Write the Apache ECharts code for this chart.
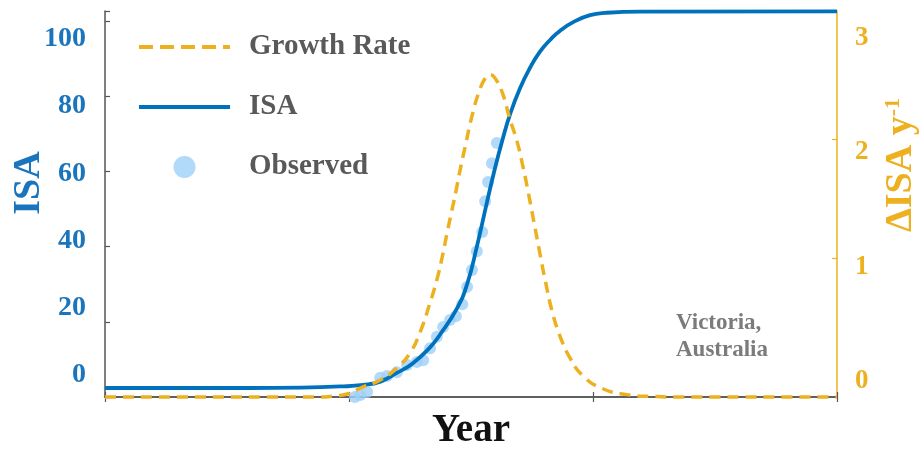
<!DOCTYPE html>
<html>
<head>
<meta charset="utf-8">
<script src="https://cdn.jsdelivr.net/npm/echarts@6/dist/echarts.min.js"></script>
<style>
  html, body { margin: 0; padding: 0; background: #ffffff; }
  #chart { width: 924px; height: 449px; }
</style>
</head>
<body>
<div id="chart"></div>
<script>
// Fitted ISA curve (year, ISA)
const isaYears  = [1950, 1979.7, 1990, 1998.2, 2002.9, 2006.4, 2009.8, 2013.1, 2016.6, 2018.6, 2022.1, 2024.2, 2026.2, 2028.3, 2029.9, 2031.4, 2033.0, 2035.0, 2037.1, 2039.1, 2041.2, 2043.2, 2046.3, 2049.4, 2052.5, 2059.6, 2100];
const isaValues = [2.4, 2.4, 2.5, 2.8, 3.2, 4.1, 6.4, 9.0, 13.2, 16.5, 23.5, 30.0, 40.0, 52.0, 60.8, 68.2, 75.2, 82.0, 87.6, 91.8, 95.0, 97.4, 100.0, 101.6, 102.2, 102.55, 102.6];

// Annual growth rate of ISA (year, ΔISA per year)
const rateYears  = [1950, 1994.1, 1997.1, 1999.6, 2002.9, 2006.4, 2009.8, 2012.5, 2014.5, 2016.6, 2018.0, 2019.1, 2020.1, 2021.1, 2021.9, 2022.7, 2023.8, 2025.2, 2026.6, 2027.9, 2028.9, 2030.1, 2031.4, 2033.0, 2034.4, 2035.5, 2036.7, 2039.1, 2040.2, 2041.6, 2043.2, 2045.3, 2047.9, 2052.0, 2057.0, 2061.7, 2067.8, 2100];
const rateValues = [0, 0, 0.01, 0.025, 0.085, 0.144, 0.246, 0.373, 0.542, 0.797, 0.992, 1.186, 1.39, 1.585, 1.74, 1.91, 2.12, 2.38, 2.58, 2.70, 2.73, 2.69, 2.58, 2.35, 2.17, 1.98, 1.74, 1.22, 0.99, 0.73, 0.52, 0.33, 0.18, 0.07, 0.02, 0.005, 0, 0];

// Observed ISA
const obsYears  = [2001.2, 2002.3, 2003.7, 2006.4, 2007.8, 2009.8, 2011.9, 2013.9, 2015.2, 2016.6, 2018.0, 2019.3, 2020.7, 2021.9, 2023.2, 2024.2, 2025.2, 2026.2, 2027.3, 2027.9, 2028.5, 2029.3, 2030.3];
const obsValues = [0.0, 0.5, 1.3, 5.1, 5.6, 6.6, 8.5, 9.3, 9.8, 13.0, 16.0, 18.6, 20.5, 21.5, 24.7, 29.3, 33.8, 38.8, 43.9, 52.1, 57.2, 62.2, 67.6];

// Tick labels
const isaTickLabels  = [0, 20, 40, 60, 80, 100];
const rateTickLabels = [0, 1, 2, 3];
const rateTickMarks  = [1, 2];

const BLUE = '#0072BD';
const BLUE_TEXT = '#1B75BC';
const ORANGE = '#EDB120';
const AXIS = '#555555';
const SERIF = '"Liberation Serif", "Times New Roman", serif';

const zip = (xs, ys) => xs.map((x, i) => [x, ys[i]]);

const chart = echarts.init(document.getElementById('chart'), null, { renderer: 'canvas' });

const hidden = { show: false };

chart.setOption({
  animation: false,
  backgroundColor: '#ffffff',
  grid: { left: 105, right: 87, top: 11, bottom: 52, containLabel: false, outerBoundsMode: 'none' },
  legend: {
    data: [
      { name: 'Growth Rate', itemStyle: { opacity: 0 }, lineStyle: { color: ORANGE, width: 4, type: [14, 7] } },
      { name: 'ISA', itemStyle: { opacity: 0 }, lineStyle: { color: BLUE, width: 4 } },
      { name: 'Observed' }
    ],
    orient: 'vertical',
    left: 132,
    top: 27,
    itemWidth: 91,
    itemHeight: 22,
    itemGap: 30,
    textStyle: {
      fontFamily: SERIF,
      fontSize: 29,
      fontWeight: 'bold',
      color: '#595959',
      lineHeight: 30,
      padding: [0, 0, 0, 14]
    }
  },
  xAxis: [
    {
      type: 'value', position: 'bottom', min: 1950, max: 2100, interval: 50,
      axisLine: { show: true, lineStyle: { color: AXIS, width: 1.5 } },
      axisTick: { show: true, inside: true, length: 5, lineStyle: { color: AXIS, width: 1.2 } },
      axisLabel: hidden, splitLine: hidden,
      name: 'Year', nameLocation: 'middle', nameGap: 14,
      nameTextStyle: { fontFamily: SERIF, fontSize: 39, fontWeight: 'bold', color: '#111111' }
    },
    {
      type: 'value', position: 'top', min: 1950, max: 2100, interval: 50,
      axisLine: { show: true, lineStyle: { color: AXIS, width: 1.5 } },
      axisTick: { show: true, inside: true, length: 5, lineStyle: { color: AXIS, width: 1.2 } },
      axisLabel: hidden, splitLine: hidden
    }
  ],
  yAxis: [
    // ISA scale
    {
      type: 'value', position: 'left', min: 0, max: 102.7, interval: 20,
      axisLine: { show: true, lineStyle: { color: AXIS, width: 1.5 } },
      axisTick: { show: true, inside: true, length: 5, lineStyle: { color: AXIS, width: 1.2 } },
      axisLabel: hidden, splitLine: hidden
    },
    // growth-rate scale
    {
      type: 'value', position: 'right', min: 0, max: 3.27,
      axisLine: { show: true, lineStyle: { color: ORANGE, width: 1.5 } },
      axisTick: hidden, axisLabel: hidden, splitLine: hidden
    },
    // ISA tick labels and title
    {
      type: 'value', position: 'left', min: -6.55, max: 108.3,
      axisLine: hidden, axisTick: hidden, splitLine: hidden,
      axisLabel: {
        show: true, customValues: isaTickLabels, margin: 19,
        fontFamily: SERIF, fontSize: 28, fontWeight: 'bold', color: BLUE_TEXT
      },
      name: 'ISA', nameLocation: 'middle', nameGap: 57, nameRotate: 90, nameMoveOverlap: false,
      nameTextStyle: {
        fontFamily: SERIF, fontSize: 38, fontWeight: 'bold', color: BLUE_TEXT,
        padding: [0, 0, 0, 42]
      }
    },
    // growth-rate tick labels and title
    {
      type: 'value', position: 'right', min: -0.14, max: 3.236,
      axisLine: hidden, axisTick: hidden, splitLine: hidden,
      axisLabel: {
        show: true, customValues: rateTickLabels, margin: 18,
        fontFamily: SERIF, fontSize: 27, fontWeight: 'bold', color: ORANGE
      },
      name: '{m|ΔISA y}{s|-1}', nameLocation: 'middle', nameGap: 45, nameRotate: 90, nameMoveOverlap: false,
      nameTextStyle: {
        padding: [0, 0, 0, 78],
        rich: {
          m: { fontFamily: SERIF, fontSize: 38, fontWeight: 'bold', color: ORANGE },
          s: { fontFamily: SERIF, fontSize: 22, fontWeight: 'bold', color: ORANGE, verticalAlign: 'top', padding: [0, 0, 14, 0] }
        }
      }
    },
    // growth-rate tick marks
    {
      type: 'value', position: 'right', min: -0.178, max: 3.09,
      axisLine: hidden, axisLabel: hidden, splitLine: hidden,
      axisTick: { show: true, inside: true, length: 5, customValues: rateTickMarks, lineStyle: { color: ORANGE, width: 1.2 } }
    }
  ],
  series: [
    {
      name: 'Observed', type: 'scatter', xAxisIndex: 0, yAxisIndex: 0,
      data: zip(obsYears, obsValues),
      symbol: 'circle', symbolSize: 12,
      itemStyle: { color: '#9ECFF8', opacity: 0.8 },
      z: 2
    },
    {
      name: 'ISA', type: 'line', xAxisIndex: 0, yAxisIndex: 0,
      data: zip(isaYears, isaValues),
      symbol: 'none', smooth: 0.5, clip: false,
      lineStyle: { color: BLUE, width: 3.8 },
      itemStyle: { color: BLUE },
      z: 3
    },
    {
      name: 'Growth Rate', type: 'line', xAxisIndex: 0, yAxisIndex: 1,
      data: zip(rateYears, rateValues),
      symbol: 'none', smooth: 0.5, clip: false,
      lineStyle: { color: ORANGE, width: 3.5, type: [11, 7] },
      itemStyle: { color: ORANGE },
      z: 4
    }
  ],
  graphic: [
    {
      type: 'text', left: 676, top: 310,
      style: {
        text: 'Victoria,\nAustralia',
        font: 'bold 23px "Liberation Serif", serif',
        fill: '#7b7b7b',
        lineHeight: 27
      }
    }
  ]
});
</script>
</body>
</html>
